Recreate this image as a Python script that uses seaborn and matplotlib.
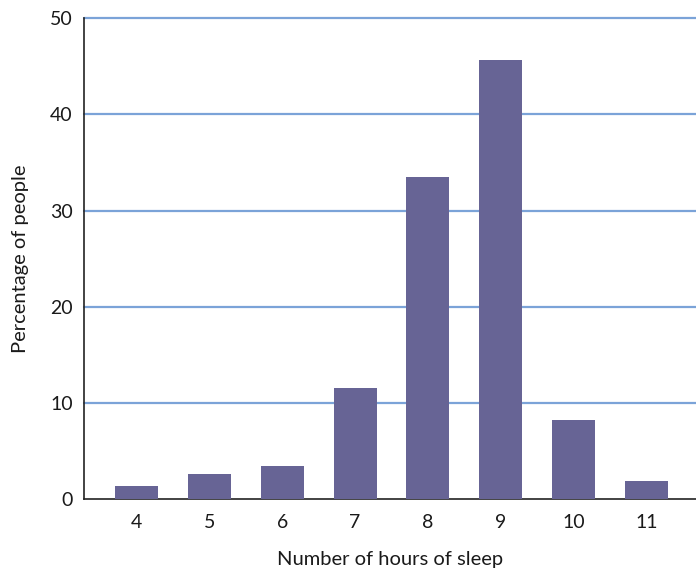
import pandas as pd
import matplotlib.pyplot as plt
import seaborn as sns

hours = ['4', '5', '6', '7', '8', '9', '10', '11']
percent = [1.4, 2.6, 3.4, 11.6, 33.5, 45.7, 8.2, 1.9]

df = pd.DataFrame({'Hours': hours, 'Percent': percent})

sns.set_style('white')
plt.rcParams['font.family'] = ['Lato', 'DejaVu Sans']

fig = plt.figure(figsize=(6.96, 5.71), dpi=100)
ax = fig.add_axes([0.1207, 0.126, 0.8793, 0.842])

sns.barplot(data=df, x='Hours', y='Percent', color='#676495', width=0.59,
            saturation=1, linewidth=0, ax=ax, zorder=3)

for v in [10, 20, 30, 40, 50]:
    ax.axhline(v, color='#7BA3D8', linewidth=1.6, zorder=1, clip_on=False)

ax.set_ylim(0, 50)
ax.set_xlim(-0.72, 7.68)
ax.set_yticks([0, 10, 20, 30, 40, 50])
ax.tick_params(axis='both', length=0, labelsize=14, colors='#1a1a1a', pad=8)
ax.tick_params(axis='x', pad=11)

for s in ['top', 'right']:
    ax.spines[s].set_visible(False)
for s in ['left', 'bottom']:
    ax.spines[s].set_color('#222222')
    ax.spines[s].set_linewidth(1.2)

ax.set_xlabel('Number of hours of sleep', fontsize=14.5, labelpad=14, color='#1a1a1a')
ax.set_ylabel('Percentage of people', fontsize=14.5, labelpad=15, color='#1a1a1a')

plt.savefig('out.png', dpi=100)
